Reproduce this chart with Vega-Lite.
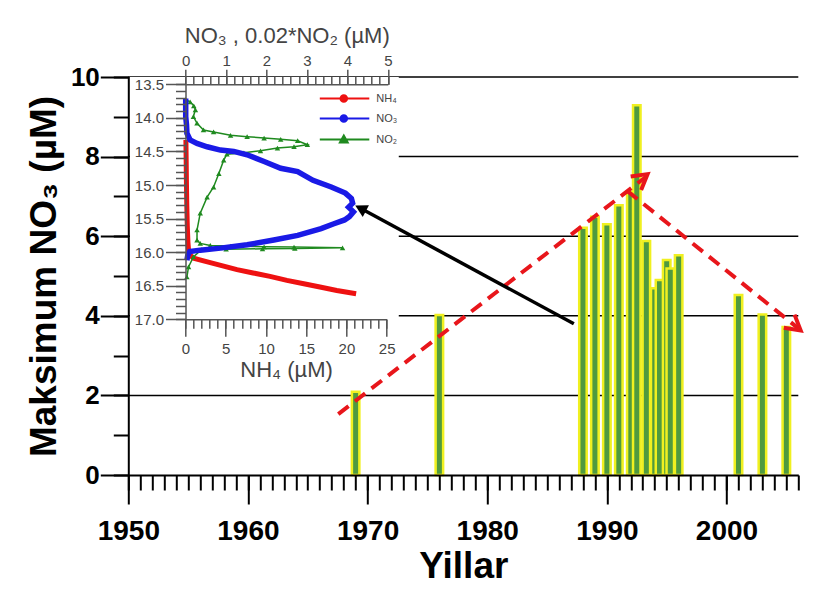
{
  "$schema": "https://vega.github.io/schema/vega-lite/v6.json",
  "width": 670,
  "height": 398,
  "autosize": {"type": "none"},
  "padding": {"left": 128.3, "top": 77, "right": 25.7, "bottom": 118},
  "background": "white",
  "config": {
    "view": {"stroke": null},
    "axis": {"labelFlush": false, "labelOverlap": false, "labelBound": false, "ticks": true}
  },
  "datasets": {
    "bars": [
      {"year": 1969, "no3": 2.09},
      {"year": 1976, "no3": 4.02},
      {"year": 1988, "no3": 6.21},
      {"year": 1989, "no3": 6.49},
      {"year": 1990, "no3": 6.30},
      {"year": 1991, "no3": 6.78},
      {"year": 1992, "no3": 7.11},
      {"year": 1992.5, "no3": 9.29},
      {"year": 1993.3, "no3": 5.88},
      {"year": 1994, "no3": 4.69},
      {"year": 1994.4, "no3": 4.90},
      {"year": 1995, "no3": 5.40},
      {"year": 1995.3, "no3": 5.19},
      {"year": 1996, "no3": 5.52},
      {"year": 2001, "no3": 4.52},
      {"year": 2003, "no3": 4.03},
      {"year": 2005, "no3": 3.72}
    ],
    "inset": [
      {"series": "NH₄", "depth": 14.33, "conc": 0.05},
      {"series": "NH₄", "depth": 14.6, "conc": 0.08},
      {"series": "NH₄", "depth": 15.0, "conc": 0.12},
      {"series": "NH₄", "depth": 15.3, "conc": 0.16},
      {"series": "NH₄", "depth": 15.6, "conc": 0.22},
      {"series": "NH₄", "depth": 15.85, "conc": 0.3},
      {"series": "NH₄", "depth": 16.0, "conc": 0.4},
      {"series": "NH₄", "depth": 16.06, "conc": 0.7},
      {"series": "NH₄", "depth": 16.09, "conc": 1.0},
      {"series": "NH₄", "depth": 16.14, "conc": 2.6},
      {"series": "NH₄", "depth": 16.2, "conc": 4.5},
      {"series": "NH₄", "depth": 16.26, "conc": 6.4},
      {"series": "NH₄", "depth": 16.31, "conc": 8.4},
      {"series": "NH₄", "depth": 16.36, "conc": 10.5},
      {"series": "NH₄", "depth": 16.42, "conc": 12.6},
      {"series": "NH₄", "depth": 16.47, "conc": 14.7},
      {"series": "NH₄", "depth": 16.52, "conc": 16.7},
      {"series": "NH₄", "depth": 16.57, "conc": 18.8},
      {"series": "NH₄", "depth": 16.62, "conc": 21.2},
      {"series": "NO₃", "depth": 13.71, "conc": 0.0},
      {"series": "NO₃", "depth": 13.85, "conc": 0.0},
      {"series": "NO₃", "depth": 13.98, "conc": 0.0},
      {"series": "NO₃", "depth": 14.1, "conc": 0.02},
      {"series": "NO₃", "depth": 14.23, "conc": 0.03},
      {"series": "NO₃", "depth": 14.33, "conc": 0.11},
      {"series": "NO₃", "depth": 14.38, "conc": 0.28},
      {"series": "NO₃", "depth": 14.43, "conc": 0.53},
      {"series": "NO₃", "depth": 14.48, "conc": 0.86},
      {"series": "NO₃", "depth": 14.5, "conc": 1.19},
      {"series": "NO₃", "depth": 14.55, "conc": 1.52},
      {"series": "NO₃", "depth": 14.65, "conc": 1.94},
      {"series": "NO₃", "depth": 14.75, "conc": 2.35},
      {"series": "NO₃", "depth": 14.8, "conc": 2.77},
      {"series": "NO₃", "depth": 14.93, "conc": 3.15},
      {"series": "NO₃", "depth": 15.03, "conc": 3.6},
      {"series": "NO₃", "depth": 15.12, "conc": 3.95},
      {"series": "NO₃", "depth": 15.2, "conc": 4.1},
      {"series": "NO₃", "depth": 15.27, "conc": 4.13},
      {"series": "NO₃", "depth": 15.33, "conc": 4.03},
      {"series": "NO₃", "depth": 15.4, "conc": 4.15},
      {"series": "NO₃", "depth": 15.47, "conc": 4.05},
      {"series": "NO₃", "depth": 15.52, "conc": 3.93},
      {"series": "NO₃", "depth": 15.58, "conc": 3.65},
      {"series": "NO₃", "depth": 15.65, "conc": 3.35},
      {"series": "NO₃", "depth": 15.75, "conc": 2.77},
      {"series": "NO₃", "depth": 15.82, "conc": 2.18},
      {"series": "NO₃", "depth": 15.89, "conc": 1.52},
      {"series": "NO₃", "depth": 15.94, "conc": 0.86},
      {"series": "NO₃", "depth": 15.97, "conc": 0.36},
      {"series": "NO₃", "depth": 15.99, "conc": 0.1},
      {"series": "NO₃", "depth": 16.05, "conc": 0.05},
      {"series": "NO₃", "depth": 16.12, "conc": 0.03},
      {"series": "NO₂", "depth": 13.73, "conc": 0.0},
      {"series": "NO₂", "depth": 13.76, "conc": 0.11},
      {"series": "NO₂", "depth": 13.82, "conc": 0.2},
      {"series": "NO₂", "depth": 13.88, "conc": 0.24},
      {"series": "NO₂", "depth": 13.98, "conc": 0.19},
      {"series": "NO₂", "depth": 14.08, "conc": 0.28},
      {"series": "NO₂", "depth": 14.18, "conc": 0.44},
      {"series": "NO₂", "depth": 14.21, "conc": 0.69},
      {"series": "NO₂", "depth": 14.26, "conc": 1.11},
      {"series": "NO₂", "depth": 14.28, "conc": 1.52},
      {"series": "NO₂", "depth": 14.3, "conc": 1.94},
      {"series": "NO₂", "depth": 14.32, "conc": 2.35},
      {"series": "NO₂", "depth": 14.34, "conc": 2.77},
      {"series": "NO₂", "depth": 14.4, "conc": 3.01},
      {"series": "NO₂", "depth": 14.43, "conc": 2.68},
      {"series": "NO₂", "depth": 14.45, "conc": 2.27},
      {"series": "NO₂", "depth": 14.49, "conc": 1.85},
      {"series": "NO₂", "depth": 14.52, "conc": 1.44},
      {"series": "NO₂", "depth": 14.54, "conc": 1.02},
      {"series": "NO₂", "depth": 14.63, "conc": 0.94},
      {"series": "NO₂", "depth": 14.83, "conc": 0.82},
      {"series": "NO₂", "depth": 15.03, "conc": 0.69},
      {"series": "NO₂", "depth": 15.18, "conc": 0.53},
      {"series": "NO₂", "depth": 15.42, "conc": 0.36},
      {"series": "NO₂", "depth": 15.67, "conc": 0.28},
      {"series": "NO₂", "depth": 15.82, "conc": 0.28},
      {"series": "NO₂", "depth": 15.87, "conc": 0.36},
      {"series": "NO₂", "depth": 15.9, "conc": 0.61},
      {"series": "NO₂", "depth": 15.91, "conc": 1.11},
      {"series": "NO₂", "depth": 15.92, "conc": 1.94},
      {"series": "NO₂", "depth": 15.925, "conc": 2.68},
      {"series": "NO₂", "depth": 15.935, "conc": 3.88},
      {"series": "NO₂", "depth": 15.945, "conc": 2.7},
      {"series": "NO₂", "depth": 15.95, "conc": 1.9},
      {"series": "NO₂", "depth": 15.955, "conc": 1.0},
      {"series": "NO₂", "depth": 15.96, "conc": 0.4},
      {"series": "NO₂", "depth": 16.07, "conc": 0.19},
      {"series": "NO₂", "depth": 16.22, "conc": 0.07},
      {"series": "NO₂", "depth": 16.37, "conc": 0.03}
    ]
  },
  "layer": [
    {
      "layer": [
        {
          "data": {"values": [{}]},
          "mark": {"type": "rule", "color": "black", "strokeWidth": 1.5},
          "encoding": {"y": {"datum": 2, "type": "quantitative", "scale": {"domain": [0, 10], "nice": false}, "axis": null}}
        },
        {
          "data": {"values": [{}]},
          "mark": {"type": "rule", "color": "black", "strokeWidth": 1.5},
          "encoding": {"y": {"datum": 4, "type": "quantitative", "axis": null}}
        },
        {
          "data": {"values": [{}]},
          "mark": {"type": "rule", "color": "black", "strokeWidth": 1.5},
          "encoding": {"y": {"datum": 6, "type": "quantitative", "axis": null}}
        },
        {
          "data": {"values": [{}]},
          "mark": {"type": "rule", "color": "black", "strokeWidth": 1.5},
          "encoding": {"y": {"datum": 8, "type": "quantitative", "axis": null}}
        },
        {
          "data": {"values": [{}]},
          "mark": {"type": "rule", "color": "black", "strokeWidth": 1.5},
          "encoding": {"y": {"datum": 10, "type": "quantitative", "axis": null}}
        },
        {
          "data": {"name": "bars"},
          "mark": {"type": "bar", "size": 7.5, "fill": "#4f9a3f", "stroke": "#f0f020", "strokeWidth": 2.5},
          "encoding": {
            "x": {
              "field": "year", "type": "quantitative",
              "scale": {"domain": [1950, 2006], "nice": false, "zero": false, "padding": 0},
              "axis": {
                "orient": "bottom", "values": [1950, 1960, 1970, 1980, 1990, 2000], "format": "d",
                "ticks": true, "tickSize": 29, "tickWidth": 2, "tickColor": "black",
                "domainColor": "black", "domainWidth": 2,
                "labelFont": "Liberation Sans", "labelFontWeight": "bold", "labelFontSize": 28, "labelColor": "black", "labelPadding": 13,
                "title": "Yillar", "titleFont": "Liberation Sans", "titleFontSize": 37, "titleFontWeight": "bold", "titleColor": "black", "titlePadding": 3,
                "grid": false, "zindex": 1
              }
            },
            "y": {
              "field": "no3", "type": "quantitative",
              "axis": {
                "orient": "left", "values": [0, 2, 4, 6, 8, 10], "format": "d",
                "ticks": true, "tickSize": 28, "tickWidth": 2, "tickColor": "black",
                "domainColor": "black", "domainWidth": 2,
                "labelFont": "Liberation Sans", "labelFontWeight": "bold", "labelFontSize": 26, "labelColor": "black", "labelPadding": 1,
                "grid": false,
                "title": "Maksimum NO₃ (µM)", "titleFont": "Liberation Sans", "titleFontSize": 37, "titleFontWeight": "bold", "titleColor": "black", "titlePadding": 7,
                "zindex": 1
              }
            }
          }
        }
      ],
      "resolve": {"axis": {"x": "independent", "y": "independent"}}
    },
    {
      "layer": [
        {
          "data": {"values": [{}]},
          "mark": {"type": "rect", "color": "white"},
          "encoding": {
            "x": {
              "datum": -6.9, "type": "quantitative",
              "scale": {"domain": [0, 25], "range": [57.2, 258.4], "nice": false, "zero": false},
              "axis": {
                "orient": "bottom", "offset": -155.7,
                "values": [0,1,2,3,4,5,6,7,8,9,10,11,12,13,14,15,16,17,18,19,20,21,22,23,24,25],
                "tickSize": 9, "tickColor": "#555", "tickWidth": 1.5,
                "labels": false, "domain": false, "grid": false, "title": null, "zindex": 1
              }
            },
            "x2": {"datum": 26.5},
            "y": {
              "datum": 13.39, "type": "quantitative",
              "scale": {"domain": [13.5, 17], "range": [7.3, 242.3], "nice": false, "zero": false},
              "axis": {
                "orient": "left", "offset": -57.2,
                "values": [13.5,13.6,13.7,13.8,13.9,14.0,14.1,14.2,14.3,14.4,14.5,14.6,14.7,14.8,14.9,15.0,15.1,15.2,15.3,15.4,15.5,15.6,15.7,15.8,15.9,16.0,16.1,16.2,16.3,16.4,16.5,16.6,16.7,16.8,16.9,17.0],
                "tickSize": 10, "tickColor": "#555", "tickWidth": 1.5,
                "labels": false, "domain": false, "grid": false, "title": null, "zindex": 1
              }
            },
            "y2": {"datum": 17.98}
          }
        },
        {
          "data": {"name": "inset"},
          "transform": [{"filter": "datum.series === 'NH₄'"}],
          "mark": {"type": "line", "strokeWidth": 5},
          "encoding": {
            "x": {
              "field": "conc", "type": "quantitative",
              "axis": {
                "orient": "bottom", "offset": -155.7, "values": [0, 5, 10, 15, 20, 25], "format": "d",
                "tickSize": 17, "tickColor": "#555", "tickWidth": 1.5, "domainColor": "#555", "domainWidth": 1.5,
                "labelFont": "Liberation Sans", "labelFontSize": 15, "labelColor": "#444", "labelPadding": 5,
                "title": "NH₄ (µM)", "titleFont": "Liberation Sans", "titleFontSize": 22, "titleFontWeight": "normal", "titleColor": "#444", "titlePadding": 3,
                "grid": false, "zindex": 1
              }
            },
            "y": {
              "field": "depth", "type": "quantitative",
              "axis": {
                "orient": "left", "offset": -57.2, "values": [13.5, 14, 14.5, 15, 15.5, 16, 16.5, 17], "format": ".1f",
                "tickSize": 20, "tickColor": "#555", "tickWidth": 1.5, "domainColor": "#555", "domainWidth": 1.5,
                "labelFont": "Liberation Sans", "labelFontSize": 15, "labelColor": "#444", "labelPadding": 2,
                "title": null, "grid": false, "zindex": 1
              }
            },
            "color": {
              "field": "series", "type": "nominal",
              "scale": {"domain": ["NH₄", "NO₃", "NO₂"], "range": ["#ee1111", "#1a1ae6", "#1f8a1f"]},
              "legend": {
                "orient": "none", "legendX": 234, "legendY": 16, "title": null, "padding": 0,
                "symbolType": "M-16,0L0.5,0", "symbolSize": 36, "symbolStrokeWidth": 2,
                "labelFont": "Liberation Sans", "labelFontSize": 11, "labelColor": "#444", "labelOffset": 3, "rowPadding": 5,
                "encode": {
                  "symbols": {
                    "update": {
                      "shape": {"signal": "datum.value === 'NO₂' ? 'M-16,0L0.5,0M-8,-1.3L-6.7,1L-9.3,1Z' : 'M-16,0L0.5,0M-9.1,0A1.1,1.1 0 1,0 -6.9,0A1.1,1.1 0 1,0 -9.1,0Z'"},
                      "fill": {"scale": "color", "field": "value"}
                    }
                  }
                }
              }
            },
            "order": {"field": "depth", "type": "quantitative"}
          }
        }
      ],
      "resolve": {"axis": {"x": "independent", "y": "independent"}}
    },
    {
      "data": {"name": "inset"},
      "layer": [
        {
          "transform": [{"filter": "datum.series === 'NO₂'"}],
          "mark": {"type": "line", "color": "#1f8a1f", "strokeWidth": 1.5},
          "encoding": {
            "x": {
              "field": "conc", "type": "quantitative",
              "scale": {"domain": [0, 5], "range": [57.4, 259.5], "nice": false, "zero": false},
              "axis": {
                "orient": "top", "offset": -7.3,
                "values": [0,0.2,0.4,0.6,0.8,1,1.2,1.4,1.6,1.8,2,2.2,2.4,2.6,2.8,3,3.2,3.4,3.6,3.8,4,4.2,4.4,4.6,4.8,5],
                "tickSize": 8, "tickColor": "#555", "tickWidth": 1.5,
                "labels": false, "domain": false, "grid": false, "title": null, "zindex": 1
              }
            },
            "y": {
              "field": "depth", "type": "quantitative",
              "scale": {"domain": [13.5, 17], "range": [7.3, 242.3], "nice": false, "zero": false},
              "axis": null
            },
            "order": {"field": "depth", "type": "quantitative"}
          }
        },
        {
          "transform": [{"filter": "datum.series === 'NO₂'"}],
          "mark": {"type": "point", "shape": "triangle-up", "size": 30, "filled": true, "color": "#1f8a1f", "opacity": 1},
          "encoding": {
            "x": {"field": "conc", "type": "quantitative", "axis": null},
            "y": {"field": "depth", "type": "quantitative", "axis": null}
          }
        },
        {
          "transform": [{"filter": "datum.series === 'NO₃'"}],
          "mark": {"type": "line", "color": "#1a1ae6", "strokeWidth": 5.5},
          "encoding": {
            "x": {
              "field": "conc", "type": "quantitative",
              "axis": {
                "orient": "top", "offset": -7.3, "values": [0, 1, 2, 3, 4, 5], "format": "d",
                "tickSize": 15, "tickColor": "#555", "tickWidth": 1.5, "domainColor": "#555", "domainWidth": 1.5,
                "labelFont": "Liberation Sans", "labelFontSize": 15, "labelColor": "#444", "labelPadding": 1,
                "title": "NO₃ , 0.02*NO₂ (µM)", "titleFont": "Liberation Sans", "titleFontSize": 22, "titleFontWeight": "normal", "titleColor": "#444", "titlePadding": 6,
                "grid": false, "zindex": 1
              }
            },
            "y": {"field": "depth", "type": "quantitative", "axis": null},
            "order": {"field": "depth", "type": "quantitative"}
          }
        }
      ],
      "resolve": {"axis": {"x": "independent", "y": "independent"}}
    },
    {
      "data": {"values": [{}]},
      "layer": [
        {
          "mark": {"type": "rule", "color": "#e8161b", "strokeWidth": 4, "strokeDash": [13, 8]},
          "encoding": {
            "x": {
              "datum": 1967.55, "type": "quantitative",
              "scale": {"domain": [1950, 2006], "nice": false, "zero": false, "padding": 0},
              "axis": {
                "orient": "bottom",
                "values": [1950,1951,1952,1953,1954,1955,1956,1957,1958,1959,1960,1961,1962,1963,1964,1965,1966,1967,1968,1969,1970,1971,1972,1973,1974,1975,1976,1977,1978,1979,1980,1981,1982,1983,1984,1985,1986,1987,1988,1989,1990,1991,1992,1993,1994,1995,1996,1997,1998,1999,2000,2001,2002,2003,2004,2005,2006],
                "ticks": true, "tickSize": 15, "tickWidth": 2, "tickColor": "black",
                "labels": false, "domain": false, "grid": false, "title": null, "zindex": 1
              }
            },
            "y": {
              "datum": 1.53, "type": "quantitative",
              "scale": {"domain": [0, 10], "nice": false},
              "axis": {
                "orient": "left", "values": [0,1,2,3,4,5,6,7,8,9,10],
                "ticks": true, "tickSize": 15, "tickWidth": 2, "tickColor": "black",
                "labels": false, "domain": false, "grid": false, "title": null, "zindex": 1
              }
            },
            "x2": {"datum": 1993.3},
            "y2": {"datum": 7.5}
          }
        },
        {
          "mark": {"type": "rule", "color": "#e8161b", "strokeWidth": 4, "strokeDash": [13, 8]},
          "encoding": {
            "x": {"datum": 1991.7, "type": "quantitative", "axis": null},
            "y": {"datum": 7.14, "type": "quantitative", "axis": null},
            "x2": {"datum": 2006.1},
            "y2": {"datum": 3.66}
          }
        },
        {
          "mark": {"type": "point", "shape": "M-0.5,0.87L0,0L0.5,0.87", "size": 1156, "filled": false, "stroke": "#e8161b", "strokeWidth": 4, "angle": 52, "opacity": 1},
          "encoding": {
            "x": {"datum": 1993.4, "type": "quantitative", "axis": null},
            "y": {"datum": 7.56, "type": "quantitative", "axis": null}
          }
        },
        {
          "mark": {"type": "point", "shape": "M-0.5,0.87L0,0L0.5,0.87", "size": 1156, "filled": false, "stroke": "#e8161b", "strokeWidth": 4, "angle": 129, "opacity": 1},
          "encoding": {
            "x": {"datum": 2006.2, "type": "quantitative", "axis": null},
            "y": {"datum": 3.63, "type": "quantitative", "axis": null}
          }
        },
        {
          "mark": {"type": "rule", "color": "black", "strokeWidth": 3.5},
          "encoding": {
            "x": {"datum": 1987.24, "type": "quantitative", "axis": null},
            "y": {"datum": 3.80, "type": "quantitative", "axis": null},
            "x2": {"datum": 1969.6},
            "y2": {"datum": 6.67}
          }
        },
        {
          "mark": {"type": "point", "shape": "M0,0L-0.55,1L0.55,1Z", "size": 576, "filled": true, "color": "black", "angle": 298, "opacity": 1},
          "encoding": {
            "x": {"datum": 1968.97, "type": "quantitative", "axis": null},
            "y": {"datum": 6.77, "type": "quantitative", "axis": null}
          }
        }
      ],
      "resolve": {"axis": {"x": "independent", "y": "independent"}}
    }
  ],
  "resolve": {
    "scale": {"x": "independent", "y": "independent"},
    "axis": {"x": "independent", "y": "independent"}
  }
}
